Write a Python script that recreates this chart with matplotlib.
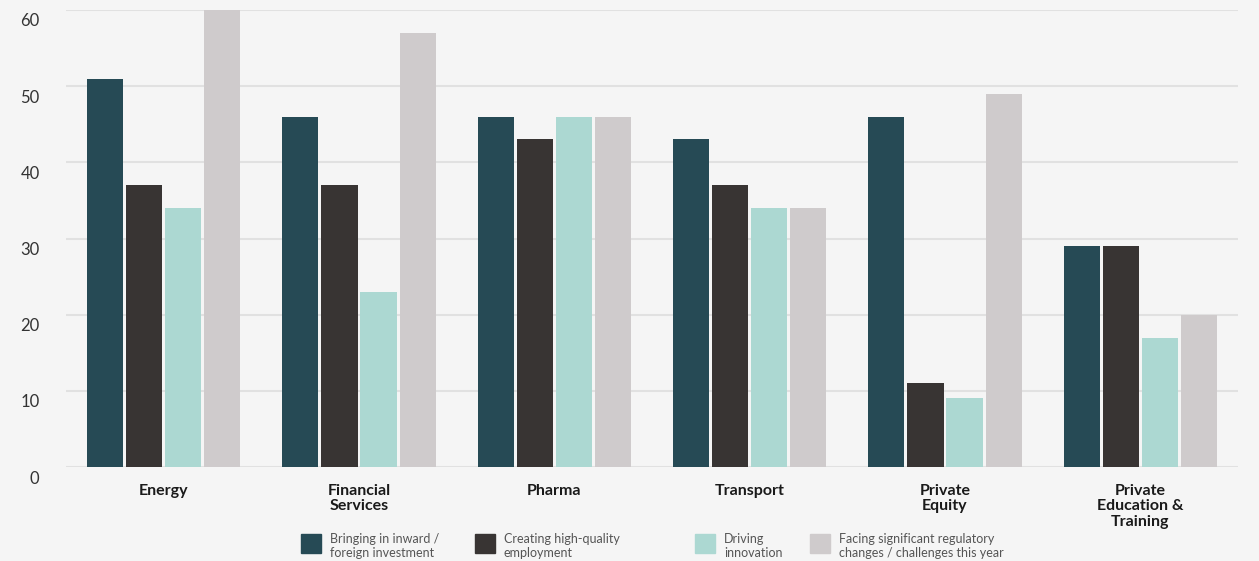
import numpy as np
import matplotlib.pyplot as plt
from matplotlib.patches import Rectangle
import matplotlib.transforms as mtransforms

plt.rcParams['font.family'] = ['Lato', 'DejaVu Sans']

# data
sectors = ['Energy', 'Financial\nServices', 'Pharma', 'Transport', 'Private\nEquity',
           'Private\nEducation &\nTraining']
inward_investment = [51, 46, 46, 43, 46, 29]
high_quality_jobs = [37, 37, 43, 37, 11, 29]
driving_innovation = [34, 23, 46, 34, 9, 17]
regulatory_change = [60, 57, 46, 34, 49, 20]

series_names = ['Bringing in inward /\nforeign investment',
                'Creating high-quality\nemployment',
                'Driving\ninnovation',
                'Facing significant regulatory\nchanges / challenges this year']
series = [inward_investment, high_quality_jobs, driving_innovation, regulatory_change]
colors = ['#264a55', '#383433', '#acd8d2', '#cfcbcc']
yticks = [0, 10, 20, 30, 40, 50, 60]

bg = '#f5f5f5'
fig = plt.figure(figsize=(12.59, 5.61), dpi=100, facecolor=bg)
ax = fig.add_axes([66/1259, 1 - 467/561, (1238-66)/1259, (467-10)/561])
ax.set_facecolor(bg)

x = np.arange(len(sectors))
step = 0.2
width = 0.185
for i, (vals, col) in enumerate(zip(series, colors)):
    ax.bar(x + (i - 1.5) * step, vals, width=width, color=col, zorder=3)

ax.set_xlim(-0.5, 5.5)
ax.set_ylim(0, 60)
ax.set_yticks(yticks)
ax.set_yticklabels([str(t) for t in yticks])
ax.grid(axis='y', color='#e1e1e1', linewidth=1.5, zorder=0)
ax.set_axisbelow(True)
for s in ax.spines.values():
    s.set_visible(False)
ax.tick_params(axis='y', length=0, pad=19, labelsize=12, labelcolor='#333333')
ax.tick_params(axis='x', length=0, pad=12)
# y labels sit just under their gridline
offset = mtransforms.ScaledTranslation(0, -10/100, fig.dpi_scale_trans)
for lab in ax.get_yticklabels():
    lab.set_transform(lab.get_transform() + offset)

ax.set_xticks(x)
ax.set_xticklabels(sectors, fontsize=11.5, fontweight='bold', color='#1a1a1a',
                   linespacing=1.15)

# legend along the bottom
leg_x = [301, 475, 695, 810]
for px, name, col in zip(leg_x, series_names, colors):
    fig.add_artist(Rectangle((px/1259, 1 - 553/561), 20/1259, 19/561,
                             transform=fig.transFigure, color=col))
    fig.text((px + 29)/1259, 1 - 546/561, name, fontsize=9, color='#555555',
             va='center', ha='left', linespacing=1.2)

fig.savefig('out.png', dpi=100, facecolor=bg)
